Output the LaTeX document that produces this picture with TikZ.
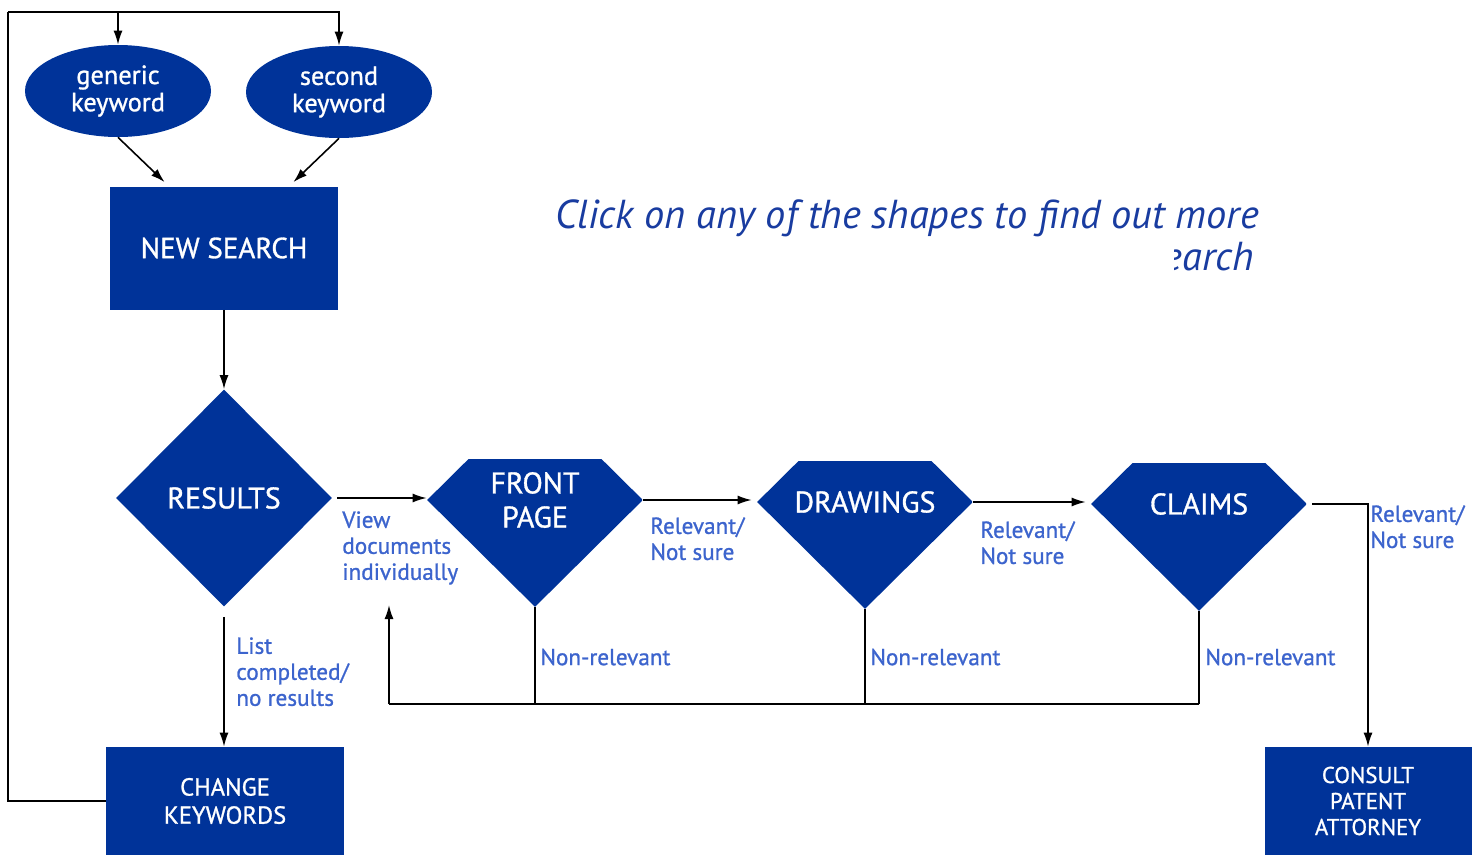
\documentclass[tikz,border=0pt]{standalone}
\usepackage{fontspec}
\setmainfont{PT Sans}
\newfontfamily\heavyfont[FakeBold=1]{PT Sans}
\usetikzlibrary{arrows.meta, shapes.geometric, calc}
\definecolor{boxblue}{RGB}{0,51,153}
\definecolor{noteblue}{RGB}{60,100,205}
\definecolor{titleblue}{RGB}{25,60,160}

\begin{document}
\begin{tikzpicture}[x=0.2mm, y=-0.2mm,
    keyword/.style={ellipse, fill=boxblue, text=white, minimum width=37.2mm, minimum height=18.4mm, inner sep=0pt, align=center, font=\heavyfont\fontsize{15}{15.5}\selectfont},
    box/.style={rectangle, fill=boxblue, text=white, inner sep=0pt, align=center},
    decision/.style={diamond, fill=boxblue, text=white, inner sep=0pt, minimum width=43.2mm, minimum height=43.4mm, align=center, font=\heavyfont\fontsize{17}{19.4}\selectfont},
    page/.style={diamond, text=white, inner sep=0pt, minimum width=43.2mm, minimum height=42.8mm, align=center, font=\heavyfont\fontsize{17}{19.4}\selectfont,
        path picture={\fill[boxblue] ([yshift=-13.2mm]path picture bounding box.north west) rectangle (path picture bounding box.south east);}},
    note/.style={text=noteblue, inner sep=0pt, align=left, font=\heavyfont\fontsize{13.2}{14.8}\selectfont},
    arrow/.style={-{Latex[length=2.8mm, width=1.8mm]}, line width=0.9pt},
    line/.style={line width=0.9pt},
]
\useasboundingbox (0,0) rectangle (1472,855);

\node[keyword] (generic) at (118,91) {generic\\keyword};
\node[keyword] (second) at (339,92) {second\\keyword};
\node[box, minimum width=45.6mm, minimum height=24.6mm, font=\heavyfont\fontsize{16.5}{19}\selectfont] (search) at (224,248) {NEW SEARCH};
\node[decision] (results) at (224,498) {RESULTS};
\node[page] (front) at (535,500) {FRONT\\PAGE};
\node[page] (drawings) at (865,502) {DRAWINGS};
\node[page] (claims) at (1199,504) {CLAIMS};
\node[box, minimum width=47.6mm, minimum height=21.6mm, font=\heavyfont\fontsize{14}{16}\selectfont] (change) at (225,801) {CHANGE\\KEYWORDS};
\node[box, minimum width=41.4mm, minimum height=21.6mm, font=\heavyfont\fontsize{13}{14.8}\selectfont] (consult) at (1368,801) {CONSULT\\PATENT\\ATTORNEY};

\coordinate (top) at (8,12);
\coordinate (loop) at (389,704);
\coordinate (back) at (389,605);

\draw[line] (change.west) -| (top);
\draw[arrow] (top) -| (second.north);
\draw[arrow] (generic.north |- top) -- (generic.north);
\draw[arrow] (generic.south) -- ($(search.north west)+(55,-4)$);
\draw[arrow] (second.south) -- ($(search.north east)+(-45,-4)$);
\draw[arrow] (search.south) -- (results.north);
\draw[arrow, shorten <=1mm] (results.east) -- (results.east -| front.west);
\draw[arrow, shorten >=1mm] (front.east) -- (front.east -| drawings.west);
\draw[arrow, shorten >=1mm] (drawings.east) -- (drawings.east -| claims.west);
\draw[arrow, shorten <=1mm] (claims.east) -| (consult.north);
\draw[arrow, shorten <=2mm] (results.south) -- (results.south |- change.north);

\draw[line] (front.south) -- (front.south |- loop);
\draw[line] (drawings.south) -- (drawings.south |- loop);
\draw[line] (claims.south) -- (claims.south |- loop);
\draw[line width=1.6pt] (claims.south |- loop) -- (loop);
\draw[arrow] (loop) -- (back);

\node[note, anchor=north west] (view) at (342,511) {View\\documents\\individually};
\node[note, anchor=north west] (relfront) at (650,517) {Relevant/\\Not sure};
\node[note, anchor=north west] (reldraw) at (980,521) {Relevant/\\Not sure};
\node[note, anchor=north west] (relclaim) at (1370,505) {Relevant/\\Not sure};
\node[note, anchor=west] (nonfront) at (540,657) {Non-relevant};
\node[note, anchor=west] (nondraw) at (870,657) {Non-relevant};
\node[note, anchor=west] (nonclaim) at (1205,657) {Non-relevant};
\node[note, anchor=north west] (list) at (236,637) {List\\completed/\\no results};

\node[text=titleblue, anchor=base west, inner sep=0pt, font=\fontsize{23}{27}\selectfont\itshape] (title) at (555,228) {Click on any of the shapes to find out more};
\begin{scope}
\clip (1174,235) rectangle (1300,290);
\node[text=titleblue, anchor=base east, inner sep=0pt, font=\fontsize{23}{27}\selectfont\itshape] (titlemore) at (1254,270) {search};
\end{scope}

\end{tikzpicture}
\end{document}
